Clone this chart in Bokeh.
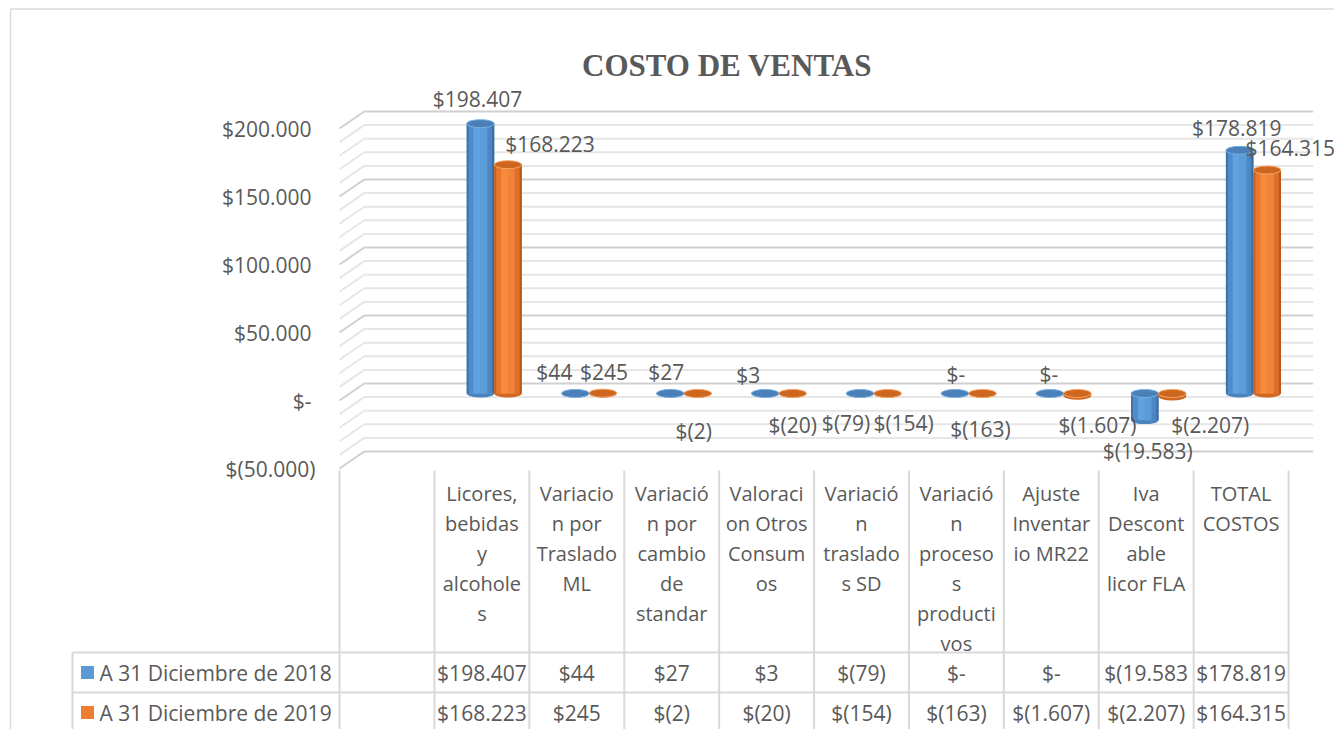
from bokeh.plotting import figure
from bokeh.models import Range1d
from bokeh.core.properties import value
from bokeh.embed import file_html
from bokeh.resources import INLINE

# ---------------- data ----------------
TITLE = "COSTO DE VENTAS"
CATEGORIES = [
    "",
    "Licores,\nbebidas\ny\nalcohole\ns",
    "Variacio\nn por\nTraslado\nML",
    "Variació\nn por\ncambio\nde\nstandar",
    "Valoraci\non Otros\nConsum\nos",
    "Variació\nn\ntraslado\ns SD",
    "Variació\nn\nproceso\ns\nproducti\nvos",
    "Ajuste\nInventar\nio MR22",
    "Iva\nDescont\nable\nlicor FLA",
    "TOTAL\nCOSTOS",
]
SERIES_NAMES = ["A 31 Diciembre de 2018", "A 31 Diciembre de 2019"]
VALUES_2018 = [None, 198407, 44, 27, 3, -79, 0, 0, -19583, 178819]
VALUES_2019 = [None, 168223, 245, -2, -20, -154, -163, -1607, -2207, 164315]
Y_TICKS = [-50000, 0, 50000, 100000, 150000, 200000]
Y_MINOR_STEP = 10000

# ---------------- layout / style ----------------
W, H = 1334, 729
PAGE_X0, PAGE_Y0 = 0, 0
CAT_W = 94.9          # px per category
CAT0 = 386.5          # page x of category 0 centre
ZERO_Y = 400          # page y of value 0 (front plane)
PX_PER_UNIT = 68 / 50000
DEPTH_DX = 0.26       # category units
BACK = 17 / PX_PER_UNIT
MID = 7 / PX_PER_UNIT
BAR_W = 0.29
ELL_H = 8

FONT = "Open Sans"
TEXT_COLOR = "#595959"
GRID_MAJOR = "#cfcfcf"
GRID_MINOR = "#e6e6e6"
TABLE_LINE = "#d9d9d9"

STRIP_FRACS = [0.08, 0.17, 0.25, 0.25, 0.17, 0.08]
SERIES_STYLE = [
    dict(off=-0.015, base="#5b9bd5", bottom="#4a84be",
         strips=["#3f73a9", "#4f8ccb", "#60a2e0", "#5b9bd8", "#4d87c3", "#3b6da2"],
         top="#4a7fb8", rim="#79b0e4", swatch="#5b9bd5"),
    dict(off=0.275, base="#ed7d31", bottom="#d0681f",
         strips=["#c45e1a", "#e6772c", "#f68b3b", "#f1823a", "#dc702a", "#ba5818"],
         top="#cd661e", rim="#f7a366", swatch="#ed7d31"),
]
LBL_DX = [
    [0, -3, -21, -4, -17, -14, 1, -1, 3, -3],
    [0, 42, 1, -4, 0, 16, -2, 20, 38, 23],
]
LBL_DY = [
    [0, 25, 21, 21, 18, -29, 20, 20, -31, 22],
    [0, 21, 21, -37, -31, -29, -35, -29, -28, 22],
]
HEADER_Y0, LINE_H = 493, 30
ROW_Y = [672, 712]
TABLE_TOP, TABLE_BOTTOM = 470, 729
ROW_LINES = [652, 692]
LEGEND_LEFT = 72


def fmt(v):
    if v == 0:
        return "$-"
    s = f"{abs(v):,.0f}".replace(",", ".")
    return f"$({s})" if v < 0 else f"${s}"


p = figure(
    width=W, height=H, output_backend="svg", toolbar_location=None, title=None,
    x_range=Range1d((PAGE_X0 - CAT0) / CAT_W, (PAGE_X0 + W - CAT0) / CAT_W),
    y_range=Range1d((ZERO_Y - (PAGE_Y0 + H)) / PX_PER_UNIT, (ZERO_Y - PAGE_Y0) / PX_PER_UNIT),
    x_axis_type=None, y_axis_type=None, min_border=0,
)
p.extra_x_ranges = {"px": Range1d(PAGE_X0, PAGE_X0 + W)}
p.extra_y_ranges = {"px": Range1d(PAGE_Y0 + H, PAGE_Y0)}
p.outline_line_color = None
p.grid.visible = False
p.background_fill_color = "white"
p.border_fill_color = "white"

n = len(CATEGORIES)
left_edge = -0.5
right_edge = n - 0.5

# ---------------- 3D walls (gridlines) ----------------
for major in (False, True):
    x0s, y0s, x1s, y1s = [], [], [], []
    bx0, by, bx1 = [], [], []
    v = Y_TICKS[0]
    while v <= Y_TICKS[-1]:
        is_major = v in Y_TICKS
        if is_major == major:
            x0s.append(left_edge); y0s.append(v)
            x1s.append(left_edge + DEPTH_DX); y1s.append(v + BACK)
            bx0.append(left_edge + DEPTH_DX); by.append(v + BACK)
            bx1.append(right_edge + DEPTH_DX)
        v += Y_MINOR_STEP
    col = GRID_MAJOR if major else GRID_MINOR
    p.segment(x0=x0s, y0=y0s, x1=x1s, y1=y1s, line_color=col, line_width=2)
    p.segment(x0=bx0, y0=by, x1=bx1, y1=by, line_color=col, line_width=2)

# ---------------- y tick labels ----------------
p.text(x=[315 if t < 0 else 311 for t in Y_TICKS], y=Y_TICKS, text=[fmt(t) for t in Y_TICKS],
       x_range_name="px", text_align="right", text_baseline="middle",
       text_font=value(FONT), text_font_size="21px", text_color=TEXT_COLOR)

# ---------------- cylinders ----------------
label_x, label_y, label_t, label_dx, label_dy = [], [], [], [], []
for s, vals in enumerate([VALUES_2018, VALUES_2019]):
    st = SERIES_STYLE[s]
    xs, tops, bots = [], [], []
    for i, v in enumerate(vals):
        if v is None:
            continue
        xs.append(i + st["off"])
        tops.append(max(v, 0) + MID)
        bots.append(min(v, 0) + MID)
        label_x.append(i + st["off"])
        label_y.append(max(v, 0) + MID if v >= 0 else min(v, 0) + MID)
        label_t.append(fmt(v))
        label_dx.append(LBL_DX[s][i])
        label_dy.append(-LBL_DY[s][i])
    p.ellipse(x=xs, y=bots, width=BAR_W, height=ELL_H, height_units="screen",
              fill_color=st["bottom"], line_color=None)
    p.vbar(x=xs, width=BAR_W, top=tops, bottom=bots, fill_color=st["base"], line_color=None)
    cum = 0.0
    for frac, c in zip(STRIP_FRACS, st["strips"]):
        cx = [x - BAR_W / 2 + (cum + frac / 2) * BAR_W for x in xs]
        p.vbar(x=cx, width=frac * BAR_W * 1.02, top=tops, bottom=bots, fill_color=c, line_color=None)
        cum += frac
    p.ellipse(x=xs, y=tops, width=BAR_W, height=ELL_H, height_units="screen",
              fill_color=st["top"], line_color=st["rim"], line_width=1)

# ---------------- data labels ----------------
p.text(x=label_x, y=label_y, text=label_t, x_offset=label_dx, y_offset=label_dy,
       text_align="center", text_baseline="middle",
       text_font=value(FONT), text_font_size="21px", text_color=TEXT_COLOR)

# ---------------- title ----------------
p.text(x=[726.5], y=[65], text=[TITLE], x_range_name="px", y_range_name="px",
       text_align="center", text_baseline="middle", text_font=value("Liberation Serif"),
       text_font_style="bold", text_font_size="31px", text_color=TEXT_COLOR)

# ---------------- chart border ----------------
p.segment(x0=[10, 10], y0=[8.5, 8.5], x1=[10, PAGE_X0 + W], y1=[PAGE_Y0 + H, 8.5],
          x_range_name="px", y_range_name="px", line_color="#d9d9d9", line_width=1.5)

# ---------------- data table ----------------
vx = [k - 0.5 for k in range(n + 1)]
p.segment(x0=vx, y0=[TABLE_TOP] * len(vx), x1=vx, y1=[TABLE_BOTTOM] * len(vx),
          y_range_name="px", line_color=TABLE_LINE, line_width=2)
p.segment(x0=[left_edge] * len(ROW_LINES), y0=ROW_LINES, x1=[right_edge] * len(ROW_LINES), y1=ROW_LINES,
          y_range_name="px", line_color=TABLE_LINE, line_width=2)
p.segment(x0=[LEGEND_LEFT] * len(ROW_LINES) + [LEGEND_LEFT], y0=ROW_LINES + [ROW_LINES[0]],
          x1=[339] * len(ROW_LINES) + [LEGEND_LEFT], y1=ROW_LINES + [TABLE_BOTTOM],
          x_range_name="px", y_range_name="px", line_color=TABLE_LINE, line_width=2)

hx, hy, ht = [], [], []
for i, cat in enumerate(CATEGORIES):
    if not cat:
        continue
    for j, line in enumerate(cat.split("\n")):
        hx.append(i); hy.append(HEADER_Y0 + j * LINE_H); ht.append(line)
p.text(x=hx, y=hy, text=ht, y_range_name="px", text_align="center", text_baseline="middle",
       text_font=value(FONT), text_font_size="20px", text_color=TEXT_COLOR)

rx, ry, rt = [], [], []
for r, vals in enumerate([VALUES_2018, VALUES_2019]):
    for i, v in enumerate(vals):
        if v is None:
            continue
        rx.append(i); ry.append(ROW_Y[r]); rt.append(fmt(v)[:8])
p.text(x=rx, y=ry, text=rt, y_range_name="px", text_align="center", text_baseline="middle",
       text_font=value(FONT), text_font_size="21px", text_color=TEXT_COLOR)

p.scatter(x=[87, 87], y=ROW_Y, marker="square", size=13, x_range_name="px", y_range_name="px",
          fill_color=[st["swatch"] for st in SERIES_STYLE], line_color=None)
p.text(x=[99, 99], y=ROW_Y, text=SERIES_NAMES, x_range_name="px", y_range_name="px",
       text_align="left", text_baseline="middle",
       text_font=value(FONT), text_font_size="21px", text_color=TEXT_COLOR)

open("out.html", "w").write(file_html(p, INLINE))
